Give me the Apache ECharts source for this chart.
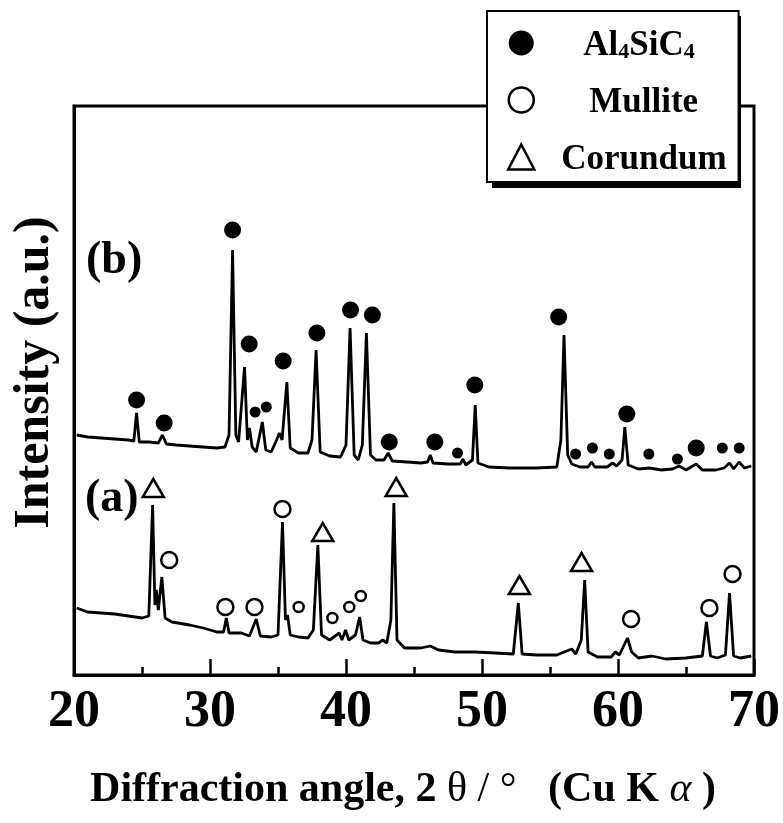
<!DOCTYPE html>
<html>
<head>
<meta charset="utf-8">
<script src="https://cdn.jsdelivr.net/npm/echarts@6/dist/echarts.min.js"></script>
<style>html,body{margin:0;padding:0;background:#fff;}#chart{width:783px;height:823px;}</style>
</head>
<body>
<div id="chart"></div>
<script>
// ---- data (2θ in degrees, intensity in arbitrary units) ----
const traceB = [
  [20.2,240],[21.0,238],[22.0,237],[23.0,236],[24.0,235],[24.4,234],[24.6,262],[24.8,233],
  [25.5,233],[26.2,232],[26.5,240],[26.8,231],[27.5,230],[28.5,229],[29.5,228],[30.5,227],
  [31.1,228],[31.4,240],[31.66,425],[31.9,240],[32.1,233],[32.54,308],[32.75,235],[32.9,247],
  [33.1,228],[33.4,223],[33.85,253],[34.1,225],[34.5,223],[34.9,235],[35.1,242],[35.3,235],
  [35.65,293],[35.9,227],[36.5,222],[37.2,222],[37.5,235],[37.8,325],[38.1,223],[38.8,219],
  [39.6,218],[40.0,230],[40.3,347],[40.6,220],[40.9,215],[41.2,230],[41.5,342],[41.8,220],
  [42.2,215],[42.8,215],[43.1,222],[43.4,214],[44.5,213],[45.5,212],[46.0,213],[46.2,220],
  [46.4,212],[47.5,211],[48.4,211],[48.6,216],[48.8,210],[49.3,215],[49.5,270],[49.7,212],
  [50.5,208],[52.0,207],[54.0,207],[55.5,208],[55.8,235],[56.03,340],[56.3,220],[56.6,211],
  [57.2,208],[57.8,208],[58.05,213],[58.3,208],[59.2,208],[59.6,212],[59.9,209],[60.3,215],
  [60.5,248],[60.75,210],[61.5,206],[62.3,207],[63.2,205],[64.0,206],[64.5,209],[65.0,205],
  [65.75,211],[66.2,205],[67.2,205],[67.8,207],[68.2,212],[68.5,206],[68.9,213],[69.3,207],[69.8,209]
];
const traceA = [
  [20.2,67],[21.0,63],[22.0,62],[23.0,61],[24.0,59],[25.0,57],[25.5,59],[25.78,170],[25.95,70],
  [26.05,85],[26.2,65],[26.46,98],[26.7,57],[27.2,53],[28.5,50],[29.5,47],[30.5,43],[31.0,43],
  [31.2,57],[31.4,42],[32.3,42],[32.9,39],[33.4,56],[33.7,39],[34.5,38],[35.0,40],[35.33,153],
  [35.55,55],[35.7,60],[35.9,40],[36.5,38],[37.2,37],[37.6,45],[37.93,130],[38.2,40],[38.8,35],
  [39.5,42],[39.7,35],[39.97,45],[40.2,35],[40.7,40],[41.0,58],[41.25,35],[41.8,32],[42.4,32],
  [42.7,35],[43.0,32],[43.3,55],[43.52,172],[43.75,35],[44.3,27],[45.5,27],[46.2,29],[46.8,25],
  [48.0,23],[49.5,23],[51.0,22],[52.3,21],[52.67,72],[52.95,21],[54.0,20],[55.5,20],[56.6,26],
  [56.9,21],[57.3,35],[57.55,95],[57.8,23],[58.5,18],[59.5,18],[59.8,23],[60.1,20],[60.7,37],
  [61.0,23],[61.5,17],[62.5,19],[63.5,16],[65.0,17],[66.2,19],[66.5,53],[66.8,19],[67.3,17],
  [67.9,20],[68.2,82],[68.5,19],[69.0,17],[69.8,19]
];
const al4sic4Major = [
  [24.6,275],[26.63,252],[31.66,445],[32.88,331],[35.38,314],[37.86,342],[40.33,365],[41.94,360],
  [43.18,233],[46.53,233],[49.47,290],[55.64,358],[60.65,261],[65.75,227]
];
const al4sic4Minor = [
  [33.32,263],[34.14,268],[48.2,222],[56.88,221],[58.12,227],[59.36,221],[62.27,221],[64.37,216],
  [67.67,227],[68.91,227]
];
const mulliteMajor = [[27.0,115],[31.13,68],[33.27,68],[35.33,166],[60.96,56],[66.72,67],[68.42,101]];
const mulliteMinor = [[36.52,68],[39.0,57],[40.24,68],[41.09,79]];
const corundum = [[25.83,187],[38.29,143],[43.69,188],[52.75,90],[57.32,113]];
const phaseNames = ['Al4SiC4', 'Mullite', 'Corundum'];
const sampleLabels = ['(a)', '(b)'];

// ---- chart ----
const FONT = 'Liberation Serif';
const chart = echarts.init(document.getElementById('chart'));
const fillStyle = {color: '#000', opacity: 1, borderWidth: 0};
const openStyle = {color: '#fff', borderColor: '#000', borderWidth: 2.5, opacity: 1};
chart.setOption({
  animation: false,
  backgroundColor: '#fff',
  grid: {left: 74, right: 24, top: 106, bottom: 148, show: true, borderColor: '#000', borderWidth: 3, containLabel: false},
  xAxis: {
    type: 'value', min: 20, max: 70, interval: 10,
    axisLine: {lineStyle: {color: '#000', width: 3}},
    axisTick: {inside: true, length: 16, lineStyle: {color: '#000', width: 2.5}},
    minorTick: {show: true, splitNumber: 2, length: 8, lineStyle: {color: '#000', width: 2.5}},
    splitLine: {show: false},
    axisLabel: {color: '#000', fontFamily: FONT, fontWeight: 'bold', fontSize: 52, margin: 12},
    name: 'Diffraction angle, 2 {t|θ} {t|/} {t|°}   (Cu K {a|α} )',
    nameLocation: 'middle', nameGap: 94,
    nameTextStyle: {
      color: '#000', fontFamily: FONT, fontWeight: 'bold', fontSize: 42, padding: [0, 22, 0, 0],
      rich: {
        t: {fontFamily: FONT, fontWeight: 'normal', fontSize: 42, color: '#000'},
        a: {fontFamily: FONT, fontWeight: 'normal', fontStyle: 'italic', fontSize: 42, color: '#000'}
      }
    }
  },
  yAxis: {
    type: 'value', min: 0, max: 569,
    axisLine: {show: true, lineStyle: {color: '#000', width: 3}},
    axisTick: {show: false}, axisLabel: {show: false}, splitLine: {show: false},
    name: 'Intensity (a.u.)', nameLocation: 'middle', nameRotate: 90, nameGap: 14,
    nameTextStyle: {color: '#000', fontFamily: FONT, fontWeight: 'bold', fontSize: 50, padding: [0, 0, 0, 36]}
  },
  legend: {
    data: [
      {name: phaseNames[0], icon: 'circle', itemStyle: fillStyle},
      {name: phaseNames[1], icon: 'circle', itemStyle: openStyle},
      {name: phaseNames[2], icon: 'triangle', itemStyle: openStyle}
    ],
    orient: 'vertical', left: 487, top: 11, z: 6,
    itemWidth: 26, itemHeight: 25, itemGap: 17,
    padding: [12, 12, 5, 20],
    backgroundColor: '#fff', borderColor: '#000', borderWidth: 2,
    selectedMode: false,
    formatter: function (name) {
      if (name === phaseNames[0]) return '{s1| }{b|Al}{u|4}{b|SiC}{u|4}';
      if (name === phaseNames[1]) return '{s2| }{b|Mullite}';
      return '{s3| }{b|Corundum}';
    },
    textStyle: {
      color: '#000', fontFamily: FONT, fontWeight: 'bold', fontSize: 35, lineHeight: 40,
      rich: {
        b: {fontFamily: FONT, fontWeight: 'bold', fontSize: 35, lineHeight: 40, color: '#000', verticalAlign: 'bottom'},
        u: {fontFamily: FONT, fontWeight: 'bold', fontSize: 22, lineHeight: 20, color: '#000', verticalAlign: 'bottom'},
        s1: {width: 44, lineHeight: 40}, s2: {width: 50, lineHeight: 40}, s3: {width: 22, lineHeight: 40}
      }
    }
  },
  graphic: [
    {type: 'rect', z: 5, left: 492, top: 16, shape: {width: 249, height: 172}, style: {fill: '#000'}},
    {type: 'text', left: 86, top: 238, style: {text: sampleLabels[1], font: 'bold 46px "Liberation Serif"', fill: '#000'}},
    {type: 'text', left: 85, top: 476, style: {text: sampleLabels[0], font: 'bold 46px "Liberation Serif"', fill: '#000'}}
  ],
  series: [
    {name: 'trace (b)', type: 'line', data: traceB, symbol: 'none', lineStyle: {color: '#000', width: 2.8}, z: 2},
    {name: 'trace (a)', type: 'line', data: traceA, symbol: 'none', lineStyle: {color: '#000', width: 2.8}, z: 2},
    {name: phaseNames[0], type: 'scatter', data: al4sic4Major, symbol: 'circle', symbolSize: 17, itemStyle: fillStyle, z: 3},
    {name: phaseNames[0], type: 'scatter', data: al4sic4Minor, symbol: 'circle', symbolSize: 11, itemStyle: fillStyle, z: 3},
    {name: phaseNames[1], type: 'scatter', data: mulliteMajor, symbol: 'circle', symbolSize: 16, itemStyle: openStyle, z: 3},
    {name: phaseNames[1], type: 'scatter', data: mulliteMinor, symbol: 'circle', symbolSize: 10, itemStyle: openStyle, z: 3},
    {name: phaseNames[2], type: 'scatter', data: corundum, symbol: 'triangle', symbolSize: [21, 18], itemStyle: openStyle, z: 3}
  ]
});
</script>
</body>
</html>
